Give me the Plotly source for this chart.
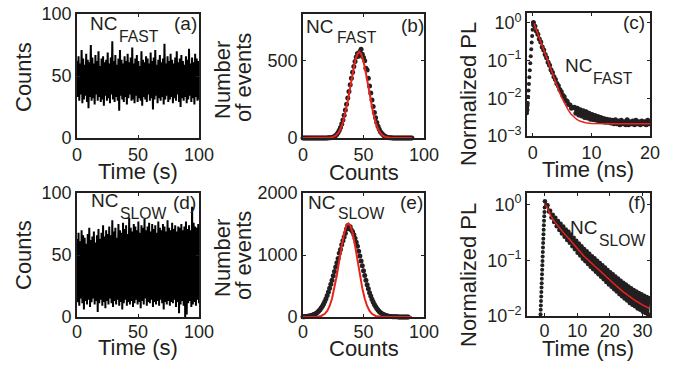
import numpy as np
import plotly.graph_objects as go

W, H = 675, 367
INK = "#231f20"
RED = "#e8221c"
FONT = "Liberation Sans, Arial, sans-serif"

# ---------------- data ----------------
# (a) NC_FAST intensity trace (counts per bin), 0-100 s
trace_a_counts = [
    62, 33, 66, 30, 60, 35, 71, 28, 64, 31, 59, 34, 68, 29, 63, 24, 61, 33, 75, 30,
    65, 32, 60, 27, 67, 35, 62, 30, 70, 33, 58, 29, 64, 31, 66, 26, 61, 34, 63, 30,
    69, 32, 60, 28, 65, 35, 78, 31, 62, 29, 67, 33, 59, 30, 64, 22, 71, 34, 63, 31,
    60, 29, 66, 33, 62, 27, 68, 32, 61, 35, 65, 30, 73, 31, 60, 28, 64, 34, 67, 29,
    62, 32, 58, 30, 70, 26, 63, 33, 61, 31, 66, 29, 64, 35, 60, 30, 69, 32, 62, 23,
    65, 31, 71, 34, 59, 28, 63, 32, 67, 30, 61, 33, 64, 27, 76, 31, 60, 34, 66, 29,
    62, 31, 68, 33, 63, 28, 60, 32, 65, 30, 70, 35, 61, 29, 64, 25, 67, 32, 62, 30,
    59, 33, 66, 28, 63, 31, 72, 34, 60, 29, 65, 32, 61, 27, 68, 33, 64, 30, 62, 31,
]
# (d) NC_SLOW intensity trace
trace_d_counts = [
    63, 12, 68, 9, 61, 15, 70, 11, 66, 6, 64, 13, 59, 10, 67, 14, 72, 8, 62, 12,
    65, 15, 69, 10, 60, 13, 66, 4, 71, 11, 63, 14, 68, 9, 74, 12, 65, 7, 70, 13,
    67, 10, 73, 15, 66, 11, 78, 8, 69, 13, 72, 10, 64, 14, 75, 9, 70, 12, 68, 6,
    76, 11, 71, 14, 74, 9, 67, 12, 80, 10, 72, 13, 69, 8, 75, 11, 73, 14, 70, 10,
    77, 12, 68, 7, 74, 13, 72, 10, 79, 15, 70, 9, 73, 12, 76, 11, 69, 14, 75, 8,
    71, 12, 74, 10, 68, 13, 77, 9, 72, 14, 70, 11, 75, 6, 73, 12, 69, 10, 78, 13,
    72, 9, 70, 12, 76, 11, 71, 14, 74, 8, 69, 12, 73, 3, 72, 10, 75, 13, 70, 9,
    73, 0, 77, 2, 71, 11, 74, 13, 70, 8, 89, 10, 76, 12, 73, 9, 72, 14, 75, 11,
]
trace_duration_s = 100

# (b) histogram of NC_FAST counts (bins 0..90)
hist_b_bins = list(range(0, 91))
hist_b_events = (
    [0] * 21
    + [1, 1, 2, 4, 6, 10, 16, 24, 35, 50, 68, 90, 116, 146, 180, 218, 258, 300, 343,
       385, 425, 462, 494, 522, 545, 528, 556, 572, 540, 520, 498, 450, 438, 385, 335,
       290, 245, 203, 165, 130, 100, 76, 56, 40, 30, 22, 15, 10, 6, 4, 2, 1, 1]
    + [0] * 17
)
fit_b_counts = [0, 20, 23, 25, 27, 29, 31, 33, 35, 37, 39, 41, 43, 45, 46.5, 48, 50,
                52, 54, 56, 58, 60, 62, 64, 66, 68, 70, 72, 75, 90]
fit_b_events = [0, 0.8, 3.1, 7.3, 15.6, 31, 58, 100, 161, 238, 327, 418, 495, 543, 555,
                543, 495, 418, 327, 238, 161, 100, 58, 31, 15.6, 7.3, 3.2, 1.3, 0.2, 0]

# (e) histogram of NC_SLOW counts (bins 0..87)
hist_e_bins = list(range(0, 88))
hist_e_events = [
    5, 6, 8, 10, 13, 16, 20, 25, 31, 39, 50, 62, 78, 96, 118, 144, 175, 210, 250, 296,
    347, 403, 463, 527, 594, 664, 735, 806, 876, 945, 1030, 1090, 1165, 1230, 1290,
    1350, 1420, 1475, 1425, 1455, 1405, 1375, 1325, 1270, 1205, 1140, 1060, 985, 905,
    825, 745, 668, 592, 522, 455, 393, 337, 287, 242, 202, 168, 138, 112, 90, 72, 57,
    45, 35, 27, 21, 16, 12, 9, 7, 6, 5, 4, 3, 3, 2, 2, 2, 1, 1, 1, 1, 1, 1,
]
fit_e_counts = [0, 10, 12, 15, 18, 20, 22, 24, 26, 28, 30, 32, 34, 36, 37.5, 39, 41, 43,
                45, 47, 49, 51, 53, 55, 57, 60, 63, 66, 70, 90]
fit_e_events = [0, 1, 4.7, 17, 51, 99, 178, 299, 465, 677, 916, 1154, 1354, 1480, 1510,
                1480, 1354, 1154, 916, 677, 465, 299, 178, 99, 51, 17, 4.7, 1, 0, 0]

# (c) NC_FAST PL decay
decay_c_rise_t = [-1.0, -0.98, -0.96, -0.94, -0.92, -0.9, -0.86, -0.8, -0.74, -0.67,
                  -0.6, -0.52, -0.44, -0.36, -0.28, -0.2, -0.12, -0.05, 0.02]
decay_c_rise_pl = [0.0040, 0.0055, 0.0047, 0.0062, 0.0050, 0.0066, 0.0075, 0.011, 0.016,
                   0.024, 0.036, 0.055, 0.085, 0.13, 0.20, 0.30, 0.45, 0.65, 0.88]
decay_c_start_ns, decay_c_step_ns = 0.1, 0.25
decay_c_pl = [
    1.02, 0.81, 0.61, 0.50, 0.37, 0.31, 0.23, 0.19, 0.145, 0.119,
    0.090, 0.075, 0.057, 0.048, 0.037, 0.0315, 0.0248, 0.0214, 0.0170, 0.0150,
    0.0120, 0.0109, 0.0088, 0.0083, 0.0068, 0.0066, 0.0054, 0.0057, 0.0058, 0.0040,
    0.0054, 0.0036, 0.0050, 0.0034, 0.0047, 0.0031, 0.0044, 0.0030, 0.0040, 0.0028,
    0.0037, 0.0027, 0.0035, 0.0026, 0.0033, 0.0025, 0.0031, 0.0024, 0.0029, 0.0023,
    0.0028, 0.0023, 0.0027, 0.0022, 0.0026, 0.0021, 0.0027, 0.0021, 0.0025, 0.0020,
    0.0026, 0.0021, 0.0024, 0.0020, 0.0027, 0.0020, 0.0024, 0.0021, 0.0025, 0.0020,
    0.0026, 0.0021, 0.0024, 0.0020, 0.0025, 0.0021, 0.0024, 0.0020, 0.0026, 0.0021,
]
fit_c_t = [0.2, 0.5, 1.0, 1.5, 2.0, 2.5, 3.0, 3.5, 4.0, 4.5, 5.0, 5.5, 6.0, 6.5, 7.0,
           7.5, 8.0, 9.0, 10, 11, 12, 14, 16, 18, 20]
fit_c_pl = [0.952, 0.706, 0.429, 0.261, 0.159, 0.0974, 0.0599, 0.0371, 0.0234, 0.0150,
            0.0099, 0.00684, 0.00498, 0.00384, 0.00316, 0.00274, 0.00249, 0.00224,
            0.00215, 0.00212, 0.00211, 0.0021, 0.0021, 0.0021, 0.0021]

# (f) NC_SLOW PL decay
decay_f_rise_t = [-1.30, -1.25, -1.20, -1.15, -1.10, -1.05, -1.00, -0.95, -0.90, -0.85,
                  -0.80, -0.75, -0.70, -0.65, -0.60, -0.55, -0.50, -0.45, -0.40, -0.35,
                  -0.30, -0.24, -0.18, -0.12, -0.06, 0.0]
decay_f_rise_pl = [0.0089, 0.0107, 0.0129, 0.0155, 0.0186, 0.0224, 0.0269, 0.0324,
                   0.0389, 0.0468, 0.0562, 0.0676, 0.0813, 0.0977, 0.1175, 0.141, 0.170,
                   0.204, 0.245, 0.295, 0.355, 0.427, 0.513, 0.617, 0.741, 0.891]
decay_f_start_ns, decay_f_step_ns = 0.1, 0.4
decay_f_pl = [
    1.15, 0.955, 0.98, 0.755, 0.78, 0.59, 0.66, 0.49, 0.58, 0.41,
    0.51, 0.35, 0.455, 0.305, 0.405, 0.265, 0.36, 0.233, 0.325, 0.207,
    0.29, 0.18, 0.255, 0.158, 0.224, 0.137, 0.20, 0.122, 0.18, 0.107,
    0.16, 0.096, 0.145, 0.086, 0.132, 0.077, 0.119, 0.069, 0.109, 0.0625,
    0.0986, 0.0565, 0.090, 0.0505, 0.0815, 0.0456, 0.0745, 0.0407, 0.0673, 0.0369,
    0.061, 0.0335, 0.0562, 0.0302, 0.0513, 0.0275, 0.0473, 0.0248, 0.0432, 0.0226,
    0.0394, 0.0206, 0.0367, 0.0189, 0.0338, 0.0172, 0.0316, 0.016, 0.0294, 0.0149,
    0.0276, 0.0137, 0.0259, 0.0129, 0.0245, 0.0119, 0.0232, 0.0113, 0.0219, 0.0107,
    0.0208,
]
fit_f_t = [0.2, 0.5, 1, 1.5, 2, 3, 4, 5, 6, 8, 10, 12, 14, 16, 18, 20, 22, 24, 26, 28, 30, 32]
fit_f_pl = [1.0, 0.955, 0.832, 0.708, 0.617, 0.501, 0.417, 0.355, 0.302, 0.224, 0.162,
            0.120, 0.0933, 0.0724, 0.0562, 0.0437, 0.0347, 0.0275, 0.0224, 0.0186,
            0.0158, 0.0138]

# ---------------- helpers ----------------
def dx(l, r):
    return [l / W, r / W]

def dy(t, b):
    return [1 - b / H, 1 - t / H]

def px(x):
    return x / W

def py(y):
    return 1 - y / H

def axis_style(**kw):
    d = dict(showline=True, linecolor=INK, linewidth=1.6, mirror="ticks",
             ticks="inside", ticklen=3, tickwidth=1, tickcolor=INK,
             showgrid=False, zeroline=False, automargin=False,
             tickfont=dict(family=FONT, size=18, color=INK))
    d.update(kw)
    return d

fig = go.Figure()

t_a = np.linspace(0, trace_duration_s, len(trace_a_counts))
t_d = np.linspace(0, trace_duration_s, len(trace_d_counts))
fig.add_trace(go.Scatter(x=t_a, y=trace_a_counts, mode="lines",
                         line=dict(color="black", width=2), xaxis="x", yaxis="y"))
fig.add_trace(go.Scatter(x=t_d, y=trace_d_counts, mode="lines",
                         line=dict(color="black", width=2), xaxis="x4", yaxis="y4"))

fig.add_trace(go.Scatter(x=hist_b_bins, y=hist_b_events, mode="markers", cliponaxis=False,
                         marker=dict(color=INK, size=5), xaxis="x2", yaxis="y2"))
fig.add_trace(go.Scatter(x=fit_b_counts, y=fit_b_events, mode="lines",
                         line=dict(color=RED, width=2), xaxis="x2", yaxis="y2"))
fig.add_trace(go.Scatter(x=hist_e_bins, y=hist_e_events, mode="markers", cliponaxis=False,
                         marker=dict(color=INK, size=5), xaxis="x5", yaxis="y5"))
fig.add_trace(go.Scatter(x=fit_e_counts, y=fit_e_events, mode="lines",
                         line=dict(color=RED, width=2), xaxis="x5", yaxis="y5"))

t_c = decay_c_start_ns + decay_c_step_ns * np.arange(len(decay_c_pl))
fig.add_trace(go.Scatter(x=decay_c_rise_t, y=decay_c_rise_pl, mode="markers",
                         marker=dict(color=INK, size=4), xaxis="x3", yaxis="y3"))
fig.add_trace(go.Scatter(x=t_c, y=decay_c_pl, mode="lines+markers",
                         line=dict(color=INK, width=2), marker=dict(color=INK, size=5),
                         xaxis="x3", yaxis="y3"))
fig.add_trace(go.Scatter(x=fit_c_t, y=fit_c_pl, mode="lines",
                         line=dict(color=RED, width=1.5), xaxis="x3", yaxis="y3"))

t_f = decay_f_start_ns + decay_f_step_ns * np.arange(len(decay_f_pl))
fig.add_trace(go.Scatter(x=decay_f_rise_t, y=decay_f_rise_pl, mode="markers",
                         marker=dict(color=INK, size=4), xaxis="x6", yaxis="y6"))
fig.add_trace(go.Scatter(x=t_f, y=decay_f_pl, mode="lines+markers",
                         line=dict(color=INK, width=2.2), marker=dict(color=INK, size=4.5),
                         xaxis="x6", yaxis="y6"))
fig.add_trace(go.Scatter(x=fit_f_t, y=fit_f_pl, mode="lines",
                         line=dict(color=RED, width=1.5), xaxis="x6", yaxis="y6"))

log_c_vals = [0.001, 0.01, 0.1, 1]
log_c_text = ["10<sup>−3</sup>", "10<sup>−2</sup>", "10<sup>−1</sup>", "10<sup>0</sup>"]
log_f_vals = [0.01, 0.1, 1]
log_f_text = ["10<sup>−2</sup>", "10<sup>−1</sup>", "10<sup>0</sup>"]

fig.update_layout(
    template="none",
    width=W, height=H, margin=dict(l=0, r=0, t=0, b=0, pad=0), autosize=False,
    paper_bgcolor="white", plot_bgcolor="white", showlegend=False,
    font=dict(family=FONT, color=INK),
    xaxis=axis_style(domain=dx(77, 199), anchor="y", range=[0, 100], tickvals=[0, 50, 100]),
    yaxis=axis_style(domain=dy(14, 138), anchor="x", range=[0, 100], tickvals=[0, 50, 100]),
    xaxis2=axis_style(domain=dx(303, 424), anchor="y2", range=[0, 100], tickvals=[0, 50, 100]),
    yaxis2=axis_style(domain=dy(14, 138), anchor="x2", range=[0, 800], tickvals=[0, 500]),
    xaxis3=axis_style(domain=dx(527, 650), anchor="y3", range=[-1, 20], tickvals=[0, 10, 20]),
    yaxis3=axis_style(domain=dy(13, 136), anchor="x3", type="log", range=[-3, 0.26],
                      tickvals=log_c_vals, ticktext=log_c_text),
    xaxis4=axis_style(domain=dx(77, 199), anchor="y4", range=[0, 100], tickvals=[0, 50, 100],
                      ticklabelstandoff=-2),
    yaxis4=axis_style(domain=dy(193, 317), anchor="x4", range=[0, 100], tickvals=[0, 50, 100]),
    xaxis5=axis_style(domain=dx(303, 424), anchor="y5", range=[0, 100], tickvals=[0, 50, 100],
                      ticklabelstandoff=-2),
    yaxis5=axis_style(domain=dy(193, 317), anchor="x5", range=[0, 2000], tickvals=[0, 1000, 2000]),
    xaxis6=axis_style(domain=dx(527, 650), anchor="y6", range=[-5.4, 32.3], tickvals=[0, 10, 20, 30],
                      ticklabelstandoff=-2),
    yaxis6=axis_style(domain=dy(193, 316), anchor="x6", type="log", range=[-2, 0.21],
                      tickvals=log_f_vals, ticktext=log_f_text),
)

ann = []

def text(x, y, s, size, angle=0, xanchor="center"):
    ann.append(dict(x=px(x), y=py(y), xref="paper", yref="paper", text=s, showarrow=False,
                    xanchor=xanchor, yanchor="middle", textangle=angle,
                    font=dict(family=FONT, size=size, color=INK)))

TS = 22
# axis titles
text(23, 77, "Counts", TS, -90)
text(138, 171, "Time (s)", TS)
text(222, 80, "Number", TS, -90)
text(243, 78, "of events", TS, -90)
text(364, 172, "Counts", TS)
text(468, 94, "Normalized PL", TS, -90)
text(588, 170, "Time (ns)", TS)
text(23, 255, "Counts", TS, -90)
text(138, 347, "Time (s)", TS)
text(222, 258, "Number", TS, -90)
text(243, 256, "of events", TS, -90)
text(364, 348, "Counts", TS)
text(468, 275, "Normalized PL", TS, -90)
text(588, 348, "Time (ns)", TS)

# panel labels
PS = 19
text(185, 24, "(a)", PS)
text(412.5, 25.5, "(b)", PS)
text(633.5, 22.5, "(c)", PS)
text(184.5, 202, "(d)", PS)
text(411, 203, "(e)", PS)
text(636.5, 202.5, "(f)", PS)

# NC labels
NS, SS = 19, 15.7
for (nx, ny, sx, sy, sub) in [
    (103.5, 23.3, 138.5, 36, "FAST"),
    (319.5, 26, 357, 38, "FAST"),
    (578.5, 65.5, 613, 78, "FAST"),
    (104, 200.5, 142.5, 213, "SLOW"),
    (321, 202.5, 361, 213.5, "SLOW"),
    (583.5, 227.5, 622, 240.5, "SLOW"),
]:
    text(nx, ny, "NC", NS)
    text(sx, sy, sub, SS)

fig.update_layout(annotations=ann)
fig.write_html("out.html", config={"displayModeBar": False},
               post_script="document.body.style.margin='0px';")
